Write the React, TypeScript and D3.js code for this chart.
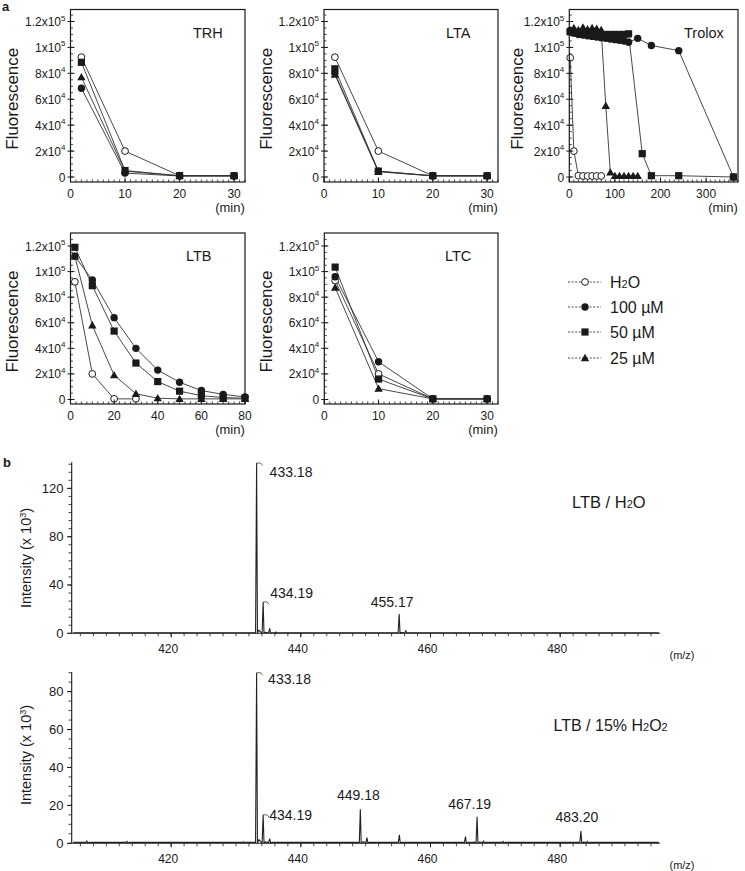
import React from "react";
import * as d3 from "d3";

const FONT = "'Liberation Sans', Arial, Helvetica, sans-serif";
const INK = "#1a1a1a";

// ---------------- Panel a : fluorescence decay data ----------------
const SERIES_NAMES = ["H2O", "100 µM", "50 µM", "25 µM"];
const SERIES_MARKERS = ["open", "circle", "square", "triangle"];

const TRH_TIME = [2, 10, 20, 30];
const TRH_H2O = [92500, 20000, 1000, 1000];
const TRH_100 = [68500, 3000, 800, 800];
const TRH_50 = [88500, 5000, 1000, 1000];
const TRH_25 = [77000, 4500, 900, 900];

const LTA_TIME = [2, 10, 20, 30];
const LTA_H2O = [92500, 20000, 1000, 1000];
const LTA_100 = [80000, 4500, 800, 800];
const LTA_50 = [83500, 4500, 1000, 1000];
const LTA_25 = [79000, 4000, 900, 900];

const TROLOX_H2O_TIME = [2, 10, 20, 30, 40, 50, 60, 70];
const TROLOX_H2O = [92000, 20000, 1000, 800, 800, 800, 800, 800];
const TROLOX_100_TIME = [2, 10, 20, 30, 40, 50, 60, 70, 80, 90, 100, 110, 120, 130, 150, 180, 240, 360];
const TROLOX_100 = [113000, 111000, 110000, 109500, 109000, 108500, 108000, 107500, 107000, 106500, 106000, 105500, 105000, 104000, 107000, 101500, 97500, 0];
const TROLOX_50_TIME = [2, 10, 20, 30, 40, 50, 60, 70, 80, 90, 100, 110, 120, 130, 160, 180, 240, 360];
const TROLOX_50 = [112000, 111500, 111000, 111000, 110500, 110500, 110500, 110000, 110000, 110000, 110000, 110000, 110000, 110500, 18000, 1000, 1000, 0];
const TROLOX_25_TIME = [2, 10, 20, 30, 40, 50, 60, 70, 80, 90, 100, 110, 120, 130, 140, 150];
const TROLOX_25 = [113000, 115000, 113500, 115500, 114000, 115000, 114500, 113500, 55000, 3500, 800, 800, 800, 800, 800, 800];

const LTB_TIME = [2, 10, 20, 30, 40, 50, 60, 70, 80];
const LTB_H2O_TIME = [2, 10, 20, 30];
const LTB_H2O = [92000, 20000, 500, 500];
const LTB_100 = [112000, 93500, 64000, 40000, 23000, 13500, 7000, 4000, 2000];
const LTB_50 = [119000, 89000, 53500, 28500, 14000, 6500, 3000, 1500, 1000];
const LTB_25 = [112000, 58000, 19000, 4500, 1000, 500, 500, 500, 500];

const LTC_TIME = [2, 10, 20, 30];
const LTC_H2O = [93000, 20000, 500, 500];
const LTC_100 = [96000, 29500, 500, 500];
const LTC_50 = [103500, 16000, 500, 500];
const LTC_25 = [87500, 8500, 500, 500];

const Y_TICKS = [0, 20000, 40000, 60000, 80000, 100000, 120000];

// ---------------- Panel b : mass spectra ----------------
// [m/z, intensity (x10^3)]
const SPEC_H2O_PEAKS = [
  [407.2, 0.6], [413.0, 0.5], [431.2, 0.6], [433.18, 141], [434.19, 26], [435.2, 4], [436.2, 1], [455.17, 16], [456.2, 2],
];
const SPEC_H2O2_PEAKS = [
  [407.0, 1.2], [413.2, 1.0], [431.2, 0.8], [433.18, 90], [434.19, 15], [435.2, 2.5], [449.18, 18], [450.2, 3],
  [455.2, 4.5], [465.4, 3.5], [467.19, 14], [468.2, 1.2], [471.2, 1], [483.2, 6.5], [484.2, 1],
];
const SPEC_H2O_LABELS = ["433.18", "434.19", "455.17"];
const SPEC_H2O2_LABELS = ["433.18", "434.19", "449.18", "467.19", "483.20"];
const SPEC_X_TICKS = [420, 440, 460, 480];
const SPEC_TOP_Y_TICKS = [0, 40, 80, 120];
const SPEC_BOT_Y_TICKS = [0, 20, 40, 60, 80];

// ---------------- layout ----------------
type Series = { t: number[]; v: number[]; marker: string };

function mk(t: number[], v: number[], marker: string): Series {
  return { t, v, marker };
}

const PANELS = [
  {
    title: "TRH", left: 70.5, right: 245, top: 9.5, bottom: 182, zeroY: 177, topTickY: 21.5,
    xDomain: [0, 32], xTicks: [0, 10, 20, 30], xMinor: 1, titleX: 193, fluoOff: 52.5,
    series: [mk(TRH_TIME, TRH_H2O, "open"), mk(TRH_TIME, TRH_100, "circle"), mk(TRH_TIME, TRH_50, "square"), mk(TRH_TIME, TRH_25, "triangle")],
  },
  {
    title: "LTA", left: 324, right: 498, top: 9.5, bottom: 182, zeroY: 177, topTickY: 21.5,
    xDomain: [0, 32], xTicks: [0, 10, 20, 30], xMinor: 1, titleX: 446, fluoOff: 52,
    series: [mk(LTA_TIME, LTA_H2O, "open"), mk(LTA_TIME, LTA_100, "circle"), mk(LTA_TIME, LTA_25, "triangle"), mk(LTA_TIME, LTA_50, "square")],
  },
  {
    title: "Trolox", left: 569.3, right: 738, top: 9.5, bottom: 182, zeroY: 177, topTickY: 21.5,
    xDomain: [0, 370], xTicks: [0, 100, 200, 300], xMinor: 10, titleX: 684, fluoOff: 46,
    series: [mk(TROLOX_H2O_TIME, TROLOX_H2O, "open"), mk(TROLOX_100_TIME, TROLOX_100, "circle"), mk(TROLOX_50_TIME, TROLOX_50, "square"), mk(TROLOX_25_TIME, TROLOX_25, "triangle")],
  },
  {
    title: "LTB", left: 70.5, right: 245, top: 233, bottom: 404, zeroY: 399.5, topTickY: 246,
    xDomain: [0, 80], xTicks: [0, 20, 40, 60, 80], xMinor: 2.5, titleX: 186, fluoOff: 52.5,
    series: [mk(LTB_H2O_TIME, LTB_H2O, "open"), mk(LTB_TIME, LTB_25, "triangle"), mk(LTB_TIME, LTB_50, "square"), mk(LTB_TIME, LTB_100, "circle")],
  },
  {
    title: "LTC", left: 324.3, right: 498, top: 233, bottom: 404, zeroY: 399.5, topTickY: 246,
    xDomain: [0, 32], xTicks: [0, 10, 20, 30], xMinor: 1, titleX: 445, fluoOff: 52,
    series: [mk(LTC_TIME, LTC_25, "triangle"), mk(LTC_TIME, LTC_H2O, "open"), mk(LTC_TIME, LTC_50, "square"), mk(LTC_TIME, LTC_100, "circle")],
  },
];

function Marker({ kind, x, y }: { kind: string; x: number; y: number }) {
  if (kind === "open") return <circle cx={x} cy={y} r={3.4} fill="#fff" stroke={INK} strokeWidth={1} />;
  if (kind === "circle") return <circle cx={x} cy={y} r={3.7} fill={INK} />;
  if (kind === "square") return <rect x={x - 3.6} y={y - 3.6} width={7.2} height={7.2} fill={INK} />;
  const s = 4.2;
  return <path d={`M${x},${y - s}L${x + s},${y + s * 0.75}L${x - s},${y + s * 0.75}Z`} fill={INK} />;
}

function yTickText(v: number): [string, string | null] {
  if (v === 0) return ["0", null];
  if (v >= 100000) return [`${v / 100000}x10`, "5"];
  return [`${v / 10000}x10`, "4"];
}

function FluorPanel({ p }: { p: any }) {
  const x = d3.scaleLinear().domain(p.xDomain).range([p.left, p.right]);
  const y = d3.scaleLinear().domain([0, 120000]).range([p.zeroY, p.topTickY]);
  const minor = d3.range(p.xDomain[0], p.xDomain[1] + 1e-9, p.xMinor);
  const yMinor = d3.range(0, y.invert(p.top) - 1000, 5000);
  const labelY = p.bottom + 15.5;
  const midY = (p.top + p.bottom) / 2 + 3;
  return (
    <g>
      {p.series.map((s: Series, i: number) => {
        const pts: [number, number][] = s.t.map((t, j) => [x(t), y(s.v[j])]);
        return <path key={"l" + i} d={d3.line()(pts) || ""} fill="none" stroke="#333" strokeWidth={0.9} />;
      })}
      {p.series.map((s: Series, i: number) =>
        s.t.map((t, j) => <Marker key={`m${i}-${j}`} kind={s.marker} x={x(t)} y={y(s.v[j])} />)
      )}
      <rect x={p.left} y={p.top} width={p.right - p.left} height={p.bottom - p.top} fill="none" stroke={INK} strokeWidth={1.2} />
      {minor.map((m: number, i: number) => (
        <line key={"xm" + i} x1={x(m)} x2={x(m)} y1={p.bottom} y2={p.bottom - 2.5} stroke={INK} strokeWidth={0.8} />
      ))}
      {p.xTicks.map((t: number) => (
        <g key={"xt" + t}>
          <line x1={x(t)} x2={x(t)} y1={p.bottom} y2={p.bottom - 4.5} stroke={INK} strokeWidth={1} />
          <text x={x(t)} y={labelY} fontSize={12} textAnchor="middle" fill={INK}>{t}</text>
        </g>
      ))}
      <text x={p.right - 15} y={labelY + 14.5} fontSize={13} textAnchor="middle" fill={INK}>(min)</text>
      {yMinor.map((m: number, i: number) => (
        <line key={"ym" + i} x1={p.left} x2={p.left + 2.5} y1={y(m)} y2={y(m)} stroke={INK} strokeWidth={0.8} />
      ))}
      {Y_TICKS.map((v) => {
        const [base, exp] = yTickText(v);
        return (
          <g key={"yt" + v}>
            <line x1={p.left - 3} x2={p.left + 4} y1={y(v)} y2={y(v)} stroke={INK} strokeWidth={1} />
            <text x={p.left - 5} y={y(v) + 4.5} fontSize={12} textAnchor="end" fill={INK}>
              {base}
              {exp && (
                <tspan fontSize={8} dy={-5.5}>
                  {exp}
                </tspan>
              )}
            </text>
          </g>
        );
      })}
      <text
        transform={`translate(${p.left - p.fluoOff},${midY}) rotate(-90)`}
        fontSize={17}
        textAnchor="middle"
        fill={INK}
      >
        Fluorescence
      </text>
      <text x={p.titleX} y={p.top + 28} fontSize={14.5} fill={INK}>{p.title}</text>
    </g>
  );
}

function Legend() {
  const ys = [282, 307, 332, 358];
  return (
    <g>
      {SERIES_NAMES.map((name, i) => (
        <g key={name}>
          <line x1={568} x2={601} y1={ys[i]} y2={ys[i]} stroke="#333" strokeWidth={0.9} strokeDasharray="2,1.6" />
          <Marker kind={SERIES_MARKERS[i]} x={585} y={ys[i]} />
          {i === 0 ? (
            <text x={610} y={ys[i] + 6} fontSize={16} fill={INK}>
              H<tspan fontSize={11}>2</tspan>O
            </text>
          ) : (
            <text x={610} y={ys[i] + 6} fontSize={16} fill={INK}>{name}</text>
          )}
        </g>
      ))}
    </g>
  );
}

function spectrumPoints(peaks: number[][], base: number, lo: number, hi: number): [number, number][] {
  const pts: [number, number][] = [[lo, base]];
  peaks.forEach(([mz, h]) => {
    pts.push([mz - 0.16, base], [mz, h], [mz + 0.13, base * 0.4], [mz + 0.35, base + h * 0.015], [mz + 0.75, base]);
  });
  pts.push([hi, base]);
  return pts;
}

type LabelPos = { dx: number; dy: number; anchor: string; hook: boolean };

function Spectrum(props: {
  peaks: number[][];
  labels: string[];
  labelPos: LabelPos[];
  yMax: number;
  yBottom: number;
  yTop: number;
  yTicks: number[];
  yMinorStep: number;
  base: number;
  labelCenterY: number;
  title: React.ReactNode;
}) {
  const x = d3.scaleLinear().domain([404.66, 495.4]).range([71.7, 660]);
  const y = d3.scaleLinear().domain([0, props.yMax]).range([props.yBottom, props.yTop]);
  const pts = spectrumPoints(props.peaks, props.base, 404.9, 495.2).map(([m, v]) => [x(m), y(v)] as [number, number]);
  const minorX = d3.range(406, 495, 2);
  const minorY = d3.range(0, props.yMax, props.yMinorStep);
  return (
    <g>
      <line x1={71.7} x2={71.7} y1={props.yTop} y2={props.yBottom} stroke={INK} strokeWidth={1.1} />
      <line x1={71.7} x2={660} y1={props.yBottom} y2={props.yBottom} stroke={INK} strokeWidth={1.1} />
      {minorY.map((v, i) => (
        <line key={"sy" + i} x1={68.5} x2={71.7} y1={y(v)} y2={y(v)} stroke={INK} strokeWidth={0.8} />
      ))}
      {props.yTicks.map((v) => (
        <g key={"syt" + v}>
          <line x1={67} x2={71.7} y1={y(v)} y2={y(v)} stroke={INK} strokeWidth={1} />
          <text x={63.5} y={y(v) + 4.5} fontSize={13} textAnchor="end" fill={INK}>{v}</text>
        </g>
      ))}
      {minorX.map((m, i) => (
        <line key={"sx" + i} x1={x(m)} x2={x(m)} y1={props.yBottom} y2={props.yBottom + 3} stroke={INK} strokeWidth={0.8} />
      ))}
      {SPEC_X_TICKS.map((t) => (
        <g key={"sxt" + t}>
          <line x1={x(t)} x2={x(t)} y1={props.yBottom} y2={props.yBottom + 4} stroke={INK} strokeWidth={1} />
          <text x={x(t) - 3} y={props.yBottom + 19.5} fontSize={12} textAnchor="middle" fill={INK}>{t}</text>
        </g>
      ))}
      <text x={682} y={props.yBottom + 26} fontSize={11} textAnchor="middle" fill={INK}>(m/z)</text>
      <path d={d3.line()(pts) || ""} fill="none" stroke="#222" strokeWidth={1.1} />
      {props.labels.map((lab, i) => {
        const mz = parseFloat(lab);
        const peak = props.peaks.find((p) => Math.abs(p[0] - mz) < 0.05);
        const h = peak ? peak[1] : 0;
        const px = x(mz);
        const py = y(Math.min(h, props.yMax));
        const lp = props.labelPos[i];
        return (
          <g key={lab}>
            {lp.hook && <path d={`M${px},${py}h4l2,2.5`} fill="none" stroke="#444" strokeWidth={0.8} />}
            <text x={px + lp.dx} y={py + lp.dy} fontSize={14} textAnchor={lp.anchor} fill={INK}>{lab}</text>
          </g>
        );
      })}
      <text
        transform={`translate(31,${props.labelCenterY}) rotate(-90)`}
        fontSize={14.5}
        textAnchor="middle"
        fill={INK}
      >
        Intensity (x 10<tspan fontSize={9} dy={-5}>3</tspan>
        <tspan dy={5}>)</tspan>
      </text>
      {props.title}
    </g>
  );
}

const TOP_LABEL_POS: LabelPos[] = [
  { dx: 13, dy: 13.5, anchor: "start", hook: true },
  { dx: 7, dy: -3.5, anchor: "start", hook: true },
  { dx: -7, dy: -7, anchor: "middle", hook: false },
];
const BOT_LABEL_POS: LabelPos[] = [
  { dx: 11.5, dy: 11.5, anchor: "start", hook: true },
  { dx: 6, dy: 5.5, anchor: "start", hook: true },
  { dx: -2, dy: -9, anchor: "middle", hook: false },
  { dx: -7.5, dy: -8, anchor: "middle", hook: false },
  { dx: -4, dy: -8.5, anchor: "middle", hook: false },
];

export default function App() {
  return (
    <svg width={745} height={871} style={{ display: "block", position: "absolute", left: 0, top: 0, background: "#fff" }} fontFamily={FONT}>
      <rect x={0} y={0} width={745} height={871} fill="#fff" />
      <text x={2} y={11} fontSize={13} fontWeight="bold" fill={INK}>a</text>
      {PANELS.map((p) => (
        <FluorPanel key={p.title} p={p} />
      ))}
      <Legend />
      <text x={3} y={467} fontSize={13} fontWeight="bold" fill={INK}>b</text>
      <Spectrum
        peaks={SPEC_H2O_PEAKS}
        labels={SPEC_H2O_LABELS}
        labelPos={TOP_LABEL_POS}
        yMax={141.6}
        yBottom={633.3}
        yTop={462.3}
        yTicks={SPEC_TOP_Y_TICKS}
        yMinorStep={40 / 6}
        base={0.4}
        labelCenterY={558}
        title={
          <text x={572} y={507.5} fontSize={16.5} fill={INK}>
            LTB / H<tspan fontSize={11}>2</tspan>O
          </text>
        }
      />
      <Spectrum
        peaks={SPEC_H2O2_PEAKS}
        labels={SPEC_H2O2_LABELS}
        labelPos={BOT_LABEL_POS}
        yMax={90.2}
        yBottom={843.3}
        yTop={672.3}
        yTicks={SPEC_BOT_Y_TICKS}
        yMinorStep={5}
        base={0.5}
        labelCenterY={755}
        title={
          <text x={553.5} y={731} fontSize={16} fill={INK}>
            LTB / 15% H<tspan fontSize={11}>2</tspan>O<tspan fontSize={11}>2</tspan>
          </text>
        }
      />
    </svg>
  );
}
